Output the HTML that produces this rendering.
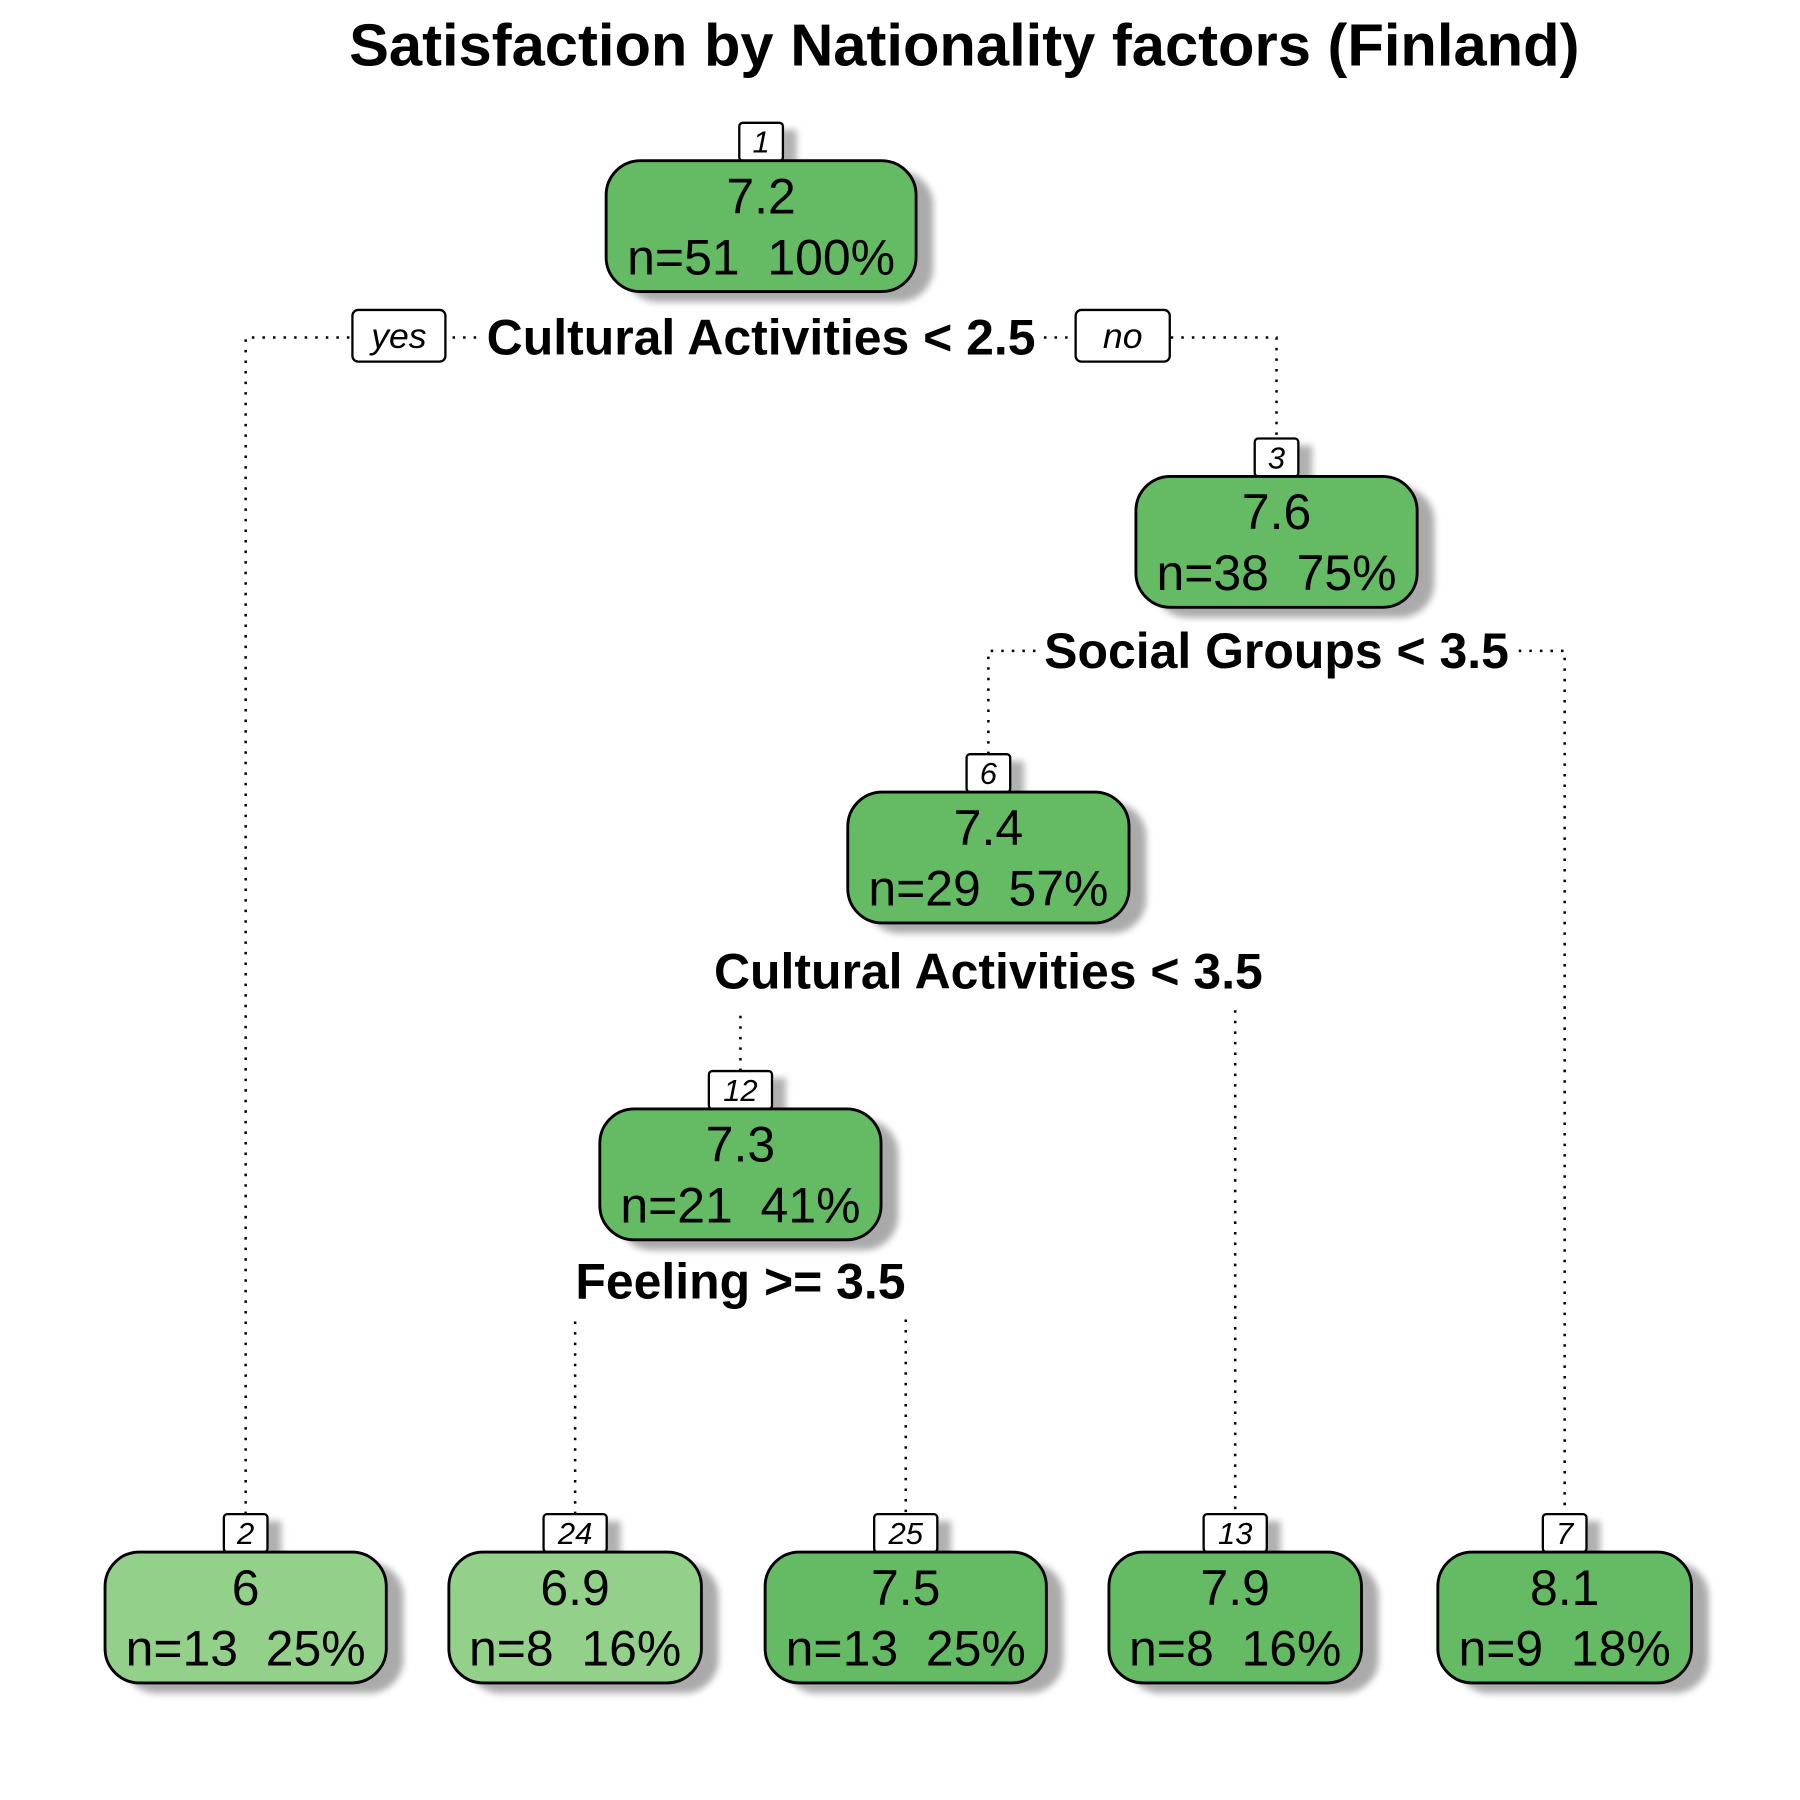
<!DOCTYPE html>
<html><head><meta charset="utf-8"><style>
html,body{margin:0;padding:0;background:#fff;}
svg{display:block;}
text{font-family:"Liberation Sans",Arial,sans-serif;}
</style></head><body>
<svg id="chart" width="1800" height="1800" viewBox="0 0 1568 1568" xmlns="http://www.w3.org/2000/svg">
<defs><filter id="sh" x="-20%" y="-20%" width="150%" height="160%"><feGaussianBlur stdDeviation="3"/></filter></defs>
<text x="840" y="57" font-size="52" font-weight="bold" text-anchor="middle">Satisfaction by Nationality factors (Finland)</text>
<g id="edges"></g><g id="splits"></g><g id="nodes"></g>
</svg>
<script>
const nodeIds = ["1","3","6","12","2","24","25","13","7"];
const nodeValues = ["7.2","7.6","7.4","7.3","6","6.9","7.5","7.9","8.1"];
const nodeN = [51,38,29,21,13,8,13,8,9];
const nodePct = ["100%","75%","57%","41%","25%","16%","25%","16%","18%"];
const nodeLight = [false,false,false,false,true,true,false,false,false];
const splitLabels = ["Cultural Activities < 2.5","Social Groups < 3.5","Cultural Activities < 3.5","Feeling >= 3.5"];

// layout (not data)
const cx = [663,1112,861,645,214,501,789,1076,1363];
const nodeTop = [140,415,690,966,1352,1352,1352,1352,1352];
const wid = [270,245,245,245,245,220,245,220,221];
const H = 114;
const splits = [
 {x:663,y:294},
 {x:1112,y:567},
 {x:861,y:846},
 {x:645,y:1116}
];
const NS="http://www.w3.org/2000/svg";
function mk(tag,attrs,parent){const e=document.createElementNS(NS,tag);for(const k in attrs)e.setAttribute(k,attrs[k]);parent.appendChild(e);return e;}
const eg=document.getElementById('edges'),sg=document.getElementById('splits'),ng=document.getElementById('nodes');
const dot={stroke:"#000","stroke-width":2.2,"stroke-dasharray":"2.2 7",fill:"none"};
const leftChild=[4,2,3,5], rightChild=[1,8,7,6];
splits.forEach((s,i)=>{
  const lx=cx[leftChild[i]], rx=cx[rightChild[i]];
  const p=mk('path',Object.assign({d:`M${lx},${nodeTop[leftChild[i]]-33} L${lx},${s.y} L${rx},${s.y} L${rx},${nodeTop[rightChild[i]]-33}`},dot),eg);
  
  
  const bg=mk('rect',{fill:"#fff"},sg);
  
  
  const t=mk('text',{x:s.x,y:s.y+15,"font-size":43.5,"font-weight":"bold","text-anchor":"middle"},sg);
  t.textContent=splitLabels[i];
  
  
  const bb=t.getBBox();
  bg.setAttribute('x',bb.x-4);bg.setAttribute('width',bb.width+8);
  bg.setAttribute('y',s.y-28);bg.setAttribute('height',i>=2?60:50);
});
[["yes",307,81,"yes-label"],["no",937,82,"no-label"]].forEach(a=>{
  const r=mk('rect',{x:a[1],y:270,width:a[2],height:45,rx:5,fill:"#fff",stroke:"#000","stroke-width":2},sg);
  
  
  const t=mk('text',{x:a[1]+a[2]/2,y:303,"font-size":31,"font-style":"italic","text-anchor":"middle"},sg);
  t.textContent=a[0];
  
  
});
nodeIds.forEach((id,i)=>{
  const x=cx[i]-wid[i]/2, y=nodeTop[i];
  const g=mk('g',{},ng);
  
  
  const bw=id.length>1?55:38;
  mk('rect',{x:cx[i]-bw/2+12,y:y-33+6,width:bw,height:33,fill:"#b0b0b0",filter:"url(#sh)"},g);
  mk('rect',{x:x+15,y:y+9,width:wid[i],height:H,rx:30,fill:"#aaa",filter:"url(#sh)"},g);
  const lb=mk('rect',{x:cx[i]-bw/2,y:y-33,width:bw,height:33,rx:3,fill:"#fff",stroke:"#000","stroke-width":2},g);
  
  
  const nt=mk('text',{x:cx[i],y:y-7,"font-size":27,"font-style":"italic","text-anchor":"middle"},g);
  nt.textContent=id;
  
  
  const b=mk('rect',{x:x,y:y,width:wid[i],height:H,rx:30,fill:nodeLight[i]?"#93d18a":"#64bb63",stroke:"#000","stroke-width":2.5},g);
  
  
  const v=mk('text',{x:cx[i],y:y+46,"font-size":43.5,"text-anchor":"middle"},g);
  v.textContent=nodeValues[i];
  
  
  const n=mk('text',{x:cx[i],y:y+99,"font-size":43.5,"text-anchor":"middle"},g);
  n.setAttribute('style','white-space:pre');
  n.textContent='n='+nodeN[i]+'  '+nodePct[i];
  
  
});
</script>
</body></html>
